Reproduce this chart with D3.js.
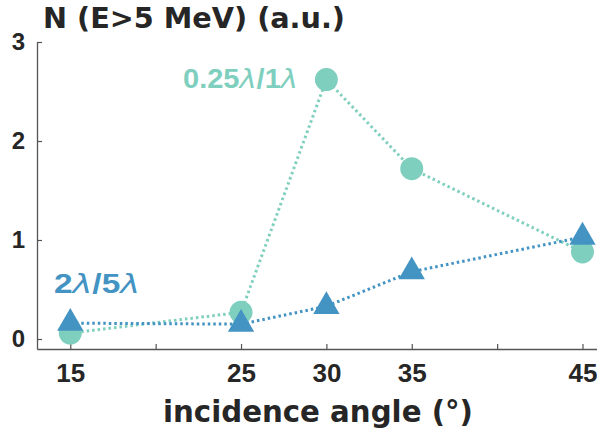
<!DOCTYPE html>
<html><head><meta charset="utf-8">
<script src="https://cdn.jsdelivr.net/npm/d3@7"></script>
<style>body{margin:0;background:#fff}</style>
</head><body>
<svg id="c" width="597" height="438"></svg>
<script>
const angles = [15, 25, 30, 35, 45];
const seriesA = [0.06, 0.27, 2.62, 1.72, 0.88]; // 0.25λ/1λ
const seriesB = [0.16, 0.15, 0.33, 0.68, 1.03]; // 2λ/5λ
const xTicks = [15, 20, 25, 30, 35, 40, 45];
const xTickLabels = ["15", "", "25", "30", "35", "", "45"];
const yTicks = [0, 1, 2, 3];
const yTitle = "N (E>5 MeV) (a.u.)";
const xTitle = "incidence angle (°)";

const svg = d3.select("#c");
const titleFont = "'DejaVu Sans', sans-serif";
const tickFont = "'Liberation Sans', Arial, sans-serif";
const x = d3.scaleLinear().domain([13.05, 45.85]).range([37, 597]);
const y = d3.scaleLinear().domain([-0.101, 3]).range([349, 42]);
const txt = "#262626";

// axes
const gx = svg.append("g").attr("transform", `translate(0,${y(-0.101)})`)
  .call(d3.axisBottom(x).tickValues(xTicks).tickSizeInner(-5).tickSizeOuter(0)
    .tickFormat((d, i) => xTickLabels[i]).tickPadding(15));
gx.select(".domain").attr("stroke", "#555").attr("stroke-width", 1.3);
gx.selectAll(".tick line").attr("stroke", "#555").attr("stroke-width", 1.2);
gx.selectAll(".tick text").attr("font-family", tickFont).attr("font-weight", "bold")
  .attr("font-size", 26).attr("fill", txt);

const gy = svg.append("g").attr("transform", `translate(${x(13.05)},0)`)
  .call(d3.axisLeft(y).tickValues(yTicks).tickSizeInner(-5).tickSizeOuter(0)
    .tickFormat(d3.format("d")).tickPadding(12));
gy.select(".domain").attr("stroke", "#555").attr("stroke-width", 1.3);
gy.selectAll(".tick line").attr("stroke", "#555").attr("stroke-width", 1.2);
gy.selectAll(".tick text").attr("font-family", tickFont).attr("font-weight", "bold")
  .attr("font-size", 24).attr("fill", txt);

svg.append("text").attr("x", 43).attr("y", 28).attr("font-family", titleFont)
  .attr("font-weight", "bold").attr("font-size", 29).attr("fill", txt)
  .attr("textLength", 302).attr("lengthAdjust", "spacingAndGlyphs").text(yTitle);
svg.append("text").attr("x", 163).attr("y", 422)
  .attr("font-family", titleFont).attr("font-weight", "bold").attr("font-size", 30)
  .attr("textLength", 310).attr("lengthAdjust", "spacingAndGlyphs")
  .attr("fill", txt).text(xTitle);

const cA = "#7fcfbf", cB = "#4393c3";
const line = d3.line().x((d, i) => x(angles[i])).y(d => y(d));

svg.append("path").datum(seriesA).attr("d", line).attr("fill", "none")
  .attr("stroke", cA).attr("stroke-width", 3).attr("stroke-dasharray", "2.5,3");
svg.append("path").datum(seriesB).attr("d", line).attr("fill", "none")
  .attr("stroke", cB).attr("stroke-width", 3).attr("stroke-dasharray", "2.5,3");

svg.selectAll(".ca").data(seriesA).join("circle")
  .attr("cx", (d, i) => x(angles[i])).attr("cy", d => y(d)).attr("r", 11.5).attr("fill", cA);

const tri = d3.symbol().type(d3.symbolTriangle).size(300);
svg.selectAll(".tb").data(seriesB).join("path")
  .attr("d", tri).attr("fill", cB)
  .attr("transform", (d, i) => `translate(${x(angles[i])},${y(d)})`);

function label(xp, yp, w, parts, color) {
  const t = svg.append("text").attr("x", xp).attr("y", yp).attr("font-family", tickFont)
    .attr("font-weight", "bold").attr("font-size", 27).attr("fill", color)
    .attr("textLength", w).attr("lengthAdjust", "spacingAndGlyphs");
  parts.forEach(p => {
    const s = t.append("tspan").text(p.t);
    if (p.l) s.attr("font-style", "italic").attr("font-weight", "normal")
      .attr("font-family", "'DejaVu Sans', sans-serif");
  });
}
label(183, 88, 115, [{t: "0.25"}, {t: "λ", l: 1}, {t: "/1"}, {t: "λ", l: 1}], cA);
label(54, 293, 86, [{t: "2"}, {t: "λ", l: 1}, {t: "/5"}, {t: "λ", l: 1}], cB);
</script>
</body></html>
